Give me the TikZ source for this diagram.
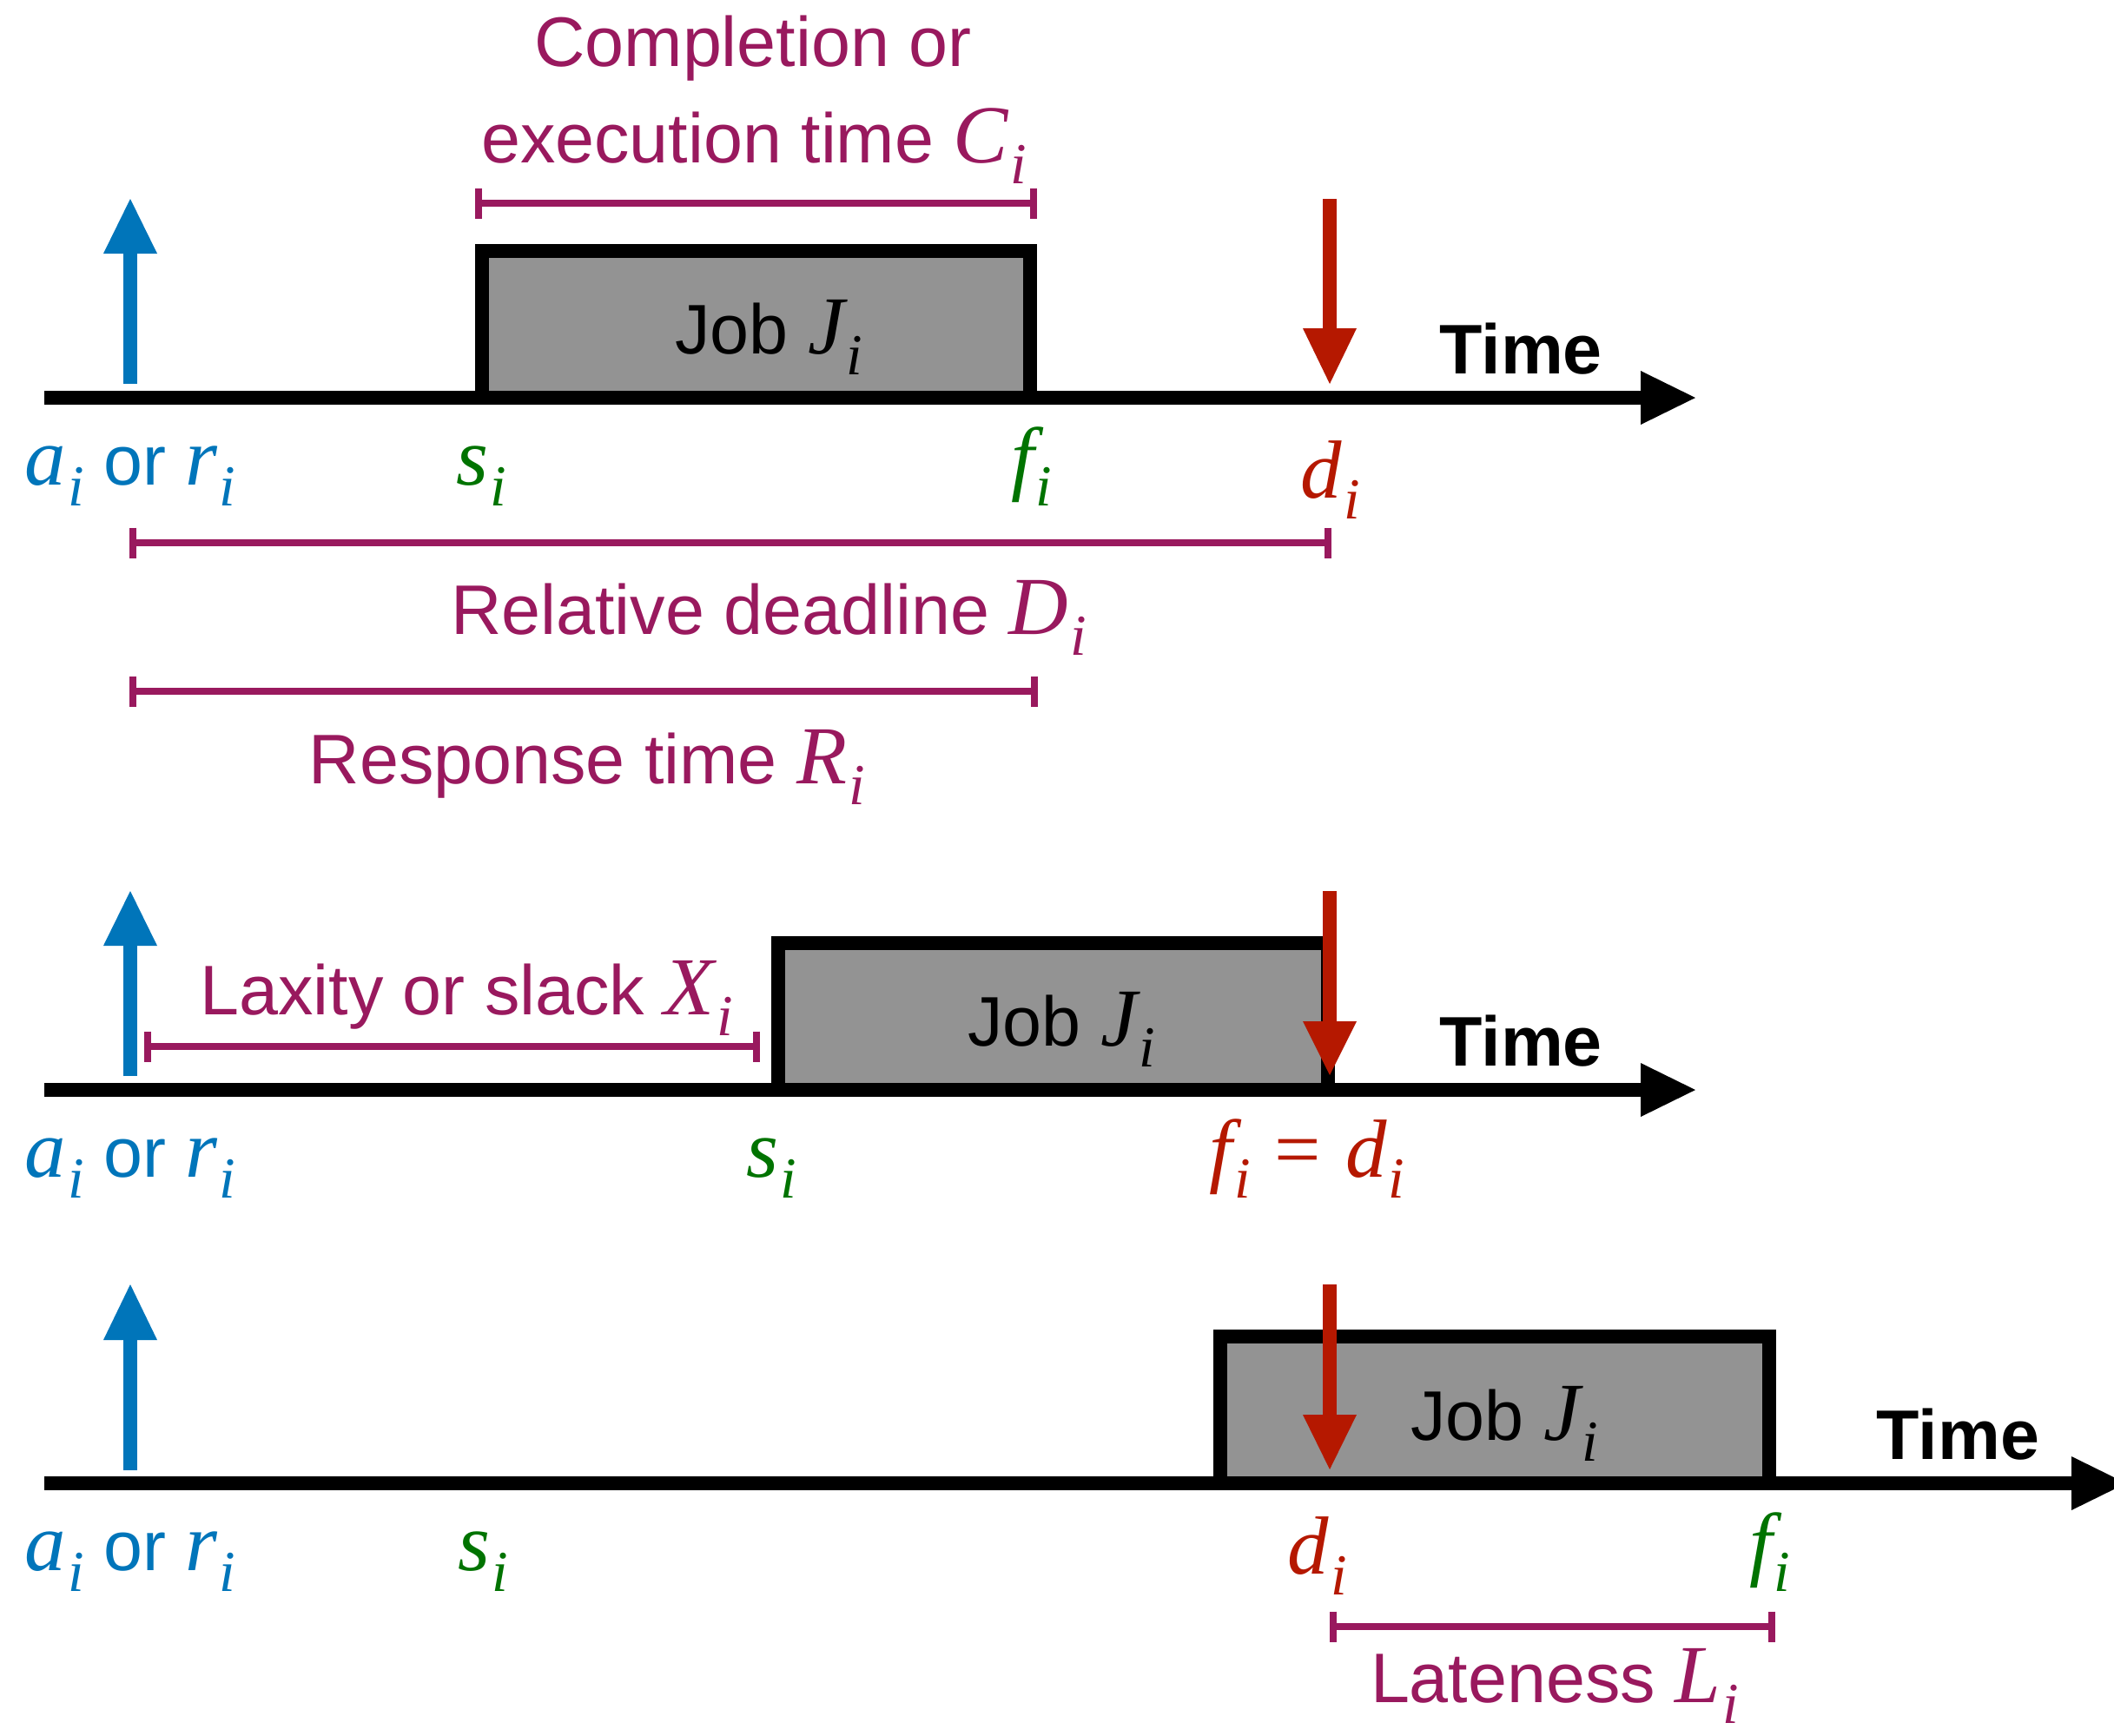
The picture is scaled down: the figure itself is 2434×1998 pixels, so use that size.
\documentclass[tikz,border=0pt]{standalone}
\usepackage{fontspec}
\setmainfont{Liberation Sans}
\newfontfamily\mathserif{Liberation Serif}
\definecolor{arrblue}{RGB}{0,117,186}
\definecolor{dlred}{RGB}{181,24,0}
\definecolor{stgreen}{RGB}{0,115,0}
\definecolor{spanpurple}{RGB}{153,25,94}
\definecolor{jobgray}{RGB}{147,147,147}
\newcommand\Mv[2]{{\mathserif\itshape\fontsize{27pt}{30pt}\selectfont #1\kern0.6pt\raisebox{-7pt}{\fontsize{19pt}{20pt}\selectfont #2}}}
\newcommand\Meq{{\mathserif\fontsize{27pt}{30pt}\selectfont =}}
% vertical arrow: #1 colour, #2 x, #3 tail y, #4 head base y, #5 tip y
\newcommand\vArrow[5]{%
  \draw[#1, line width=1.55mm, line cap=butt] (#2,#3) -- (#2,#4);
  \fill[#1] (#2,#5) -- (#2-31,#4) -- (#2+31,#4) -- cycle;}
% time axis: #1 y, #2 head base x
\newcommand\tAxis[2]{%
  \draw[line width=1.6mm, line cap=butt] (51,#1) -- (#2,#1);
  \fill (#2+63,#1) -- (#2,#1-31) -- (#2,#1+31) -- cycle;}
% span bracket: #1 x1, #2 x2, #3 y
\newcommand\spanBar[3]{%
  \draw[spanbar] (#1,#3) -- (#2,#3);
  \draw[spanbar] (#1,#3-17.5) -- (#1,#3+17.5);
  \draw[spanbar] (#2,#3-17.5) -- (#2,#3+17.5);}
\begin{document}
\begin{tikzpicture}[x=0.1mm,y=-0.1mm,
  txt/.style={inner sep=0pt, anchor=base, font=\fontsize{23pt}{27pt}\selectfont},
  timelbl/.style={inner sep=0pt, anchor=base west, font=\fontsize{23pt}{27pt}\selectfont\bfseries},
  jobbox/.style={draw=black, fill=jobgray, line width=1.6mm, line join=miter},
  spanbar/.style={draw=spanpurple, line width=0.85mm, line cap=butt}]
\useasboundingbox[fill=white] (0,0) rectangle (2434,1998);

% ---------------- Row 1 ----------------
\filldraw[jobbox] (555,458) -- (555,289) -- (1186,289) -- (1186,458);
\tAxis{458}{1889}
\vArrow{arrblue}{150}{442}{292}{229}
\vArrow{dlred}{1531}{229}{378}{442}
\node[txt] (job1) at (885,407) {Job \Mv{J}{i}};
\node[timelbl] (time1) at (1657,430) {Time};
\spanBar{551}{1190}{234}
\node[txt, text=spanpurple] (comp1) at (867,76) {Completion or};
\node[txt, text=spanpurple] (comp2) at (868,187) {execution time \Mv{C}{i}};
\node[txt, text=arrblue] (ar1) at (150,558) {\Mv{a}{i} or \Mv{r}{i}};
\node[txt, text=stgreen] (s1) at (554,558) {\Mv{s}{i}};
\node[txt, text=stgreen] (f1) at (1188,558) {\Mv{f}{i}};
\node[txt, text=dlred] (d1) at (1532,573) {\Mv{d}{i}};
\spanBar{153}{1529}{625}
\node[txt, text=spanpurple] (reld) at (885,730) {Relative deadline \Mv{D}{i}};
\spanBar{153}{1191}{796}
\node[txt, text=spanpurple] (resp) at (676,902) {Response time \Mv{R}{i}};

% ---------------- Row 2 ----------------
\filldraw[jobbox] (896,1255) -- (896,1086) -- (1529,1086) -- (1529,1255);
\tAxis{1255}{1889}
\vArrow{arrblue}{150}{1239}{1089}{1026}
\vArrow{dlred}{1531}{1026}{1176}{1238}
\node[txt] (job2) at (1222,1204) {Job \Mv{J}{i}};
\node[timelbl] (time2) at (1657,1227) {Time};
\spanBar{170}{871}{1205}
\node[txt, text=spanpurple] (lax) at (537,1168) {Laxity or slack \Mv{X}{i}};
\node[txt, text=arrblue] (ar2) at (150,1355) {\Mv{a}{i} or \Mv{r}{i}};
\node[txt, text=stgreen] (s2) at (888,1355) {\Mv{s}{i}};
\node[txt, text=dlred] (fd2) at (1505,1355) {\Mv{f}{i}\hspace{8pt}\Meq\hspace{8pt}\Mv{d}{i}};

% ---------------- Row 3 ----------------
\filldraw[jobbox] (1405,1708) -- (1405,1539) -- (2037,1539) -- (2037,1708);
\tAxis{1708}{2385}
\vArrow{arrblue}{150}{1693}{1543}{1479}
\vArrow{dlred}{1531}{1479}{1629}{1692}
\node[txt] (job3) at (1732,1658) {Job \Mv{J}{i}};
\node[timelbl] (time3) at (2160,1680) {Time};
\node[txt, text=arrblue] (ar3) at (150,1808) {\Mv{a}{i} or \Mv{r}{i}};
\node[txt, text=stgreen] (s3) at (556,1808) {\Mv{s}{i}};
\node[txt, text=dlred] (d3) at (1517,1812) {\Mv{d}{i}};
\node[txt, text=stgreen] (f3) at (2038,1808) {\Mv{f}{i}};
\spanBar{1535}{2040}{1873}
\node[txt, text=spanpurple] (late) at (1790,1960) {Lateness \Mv{L}{i}};
\end{tikzpicture}
\end{document}
